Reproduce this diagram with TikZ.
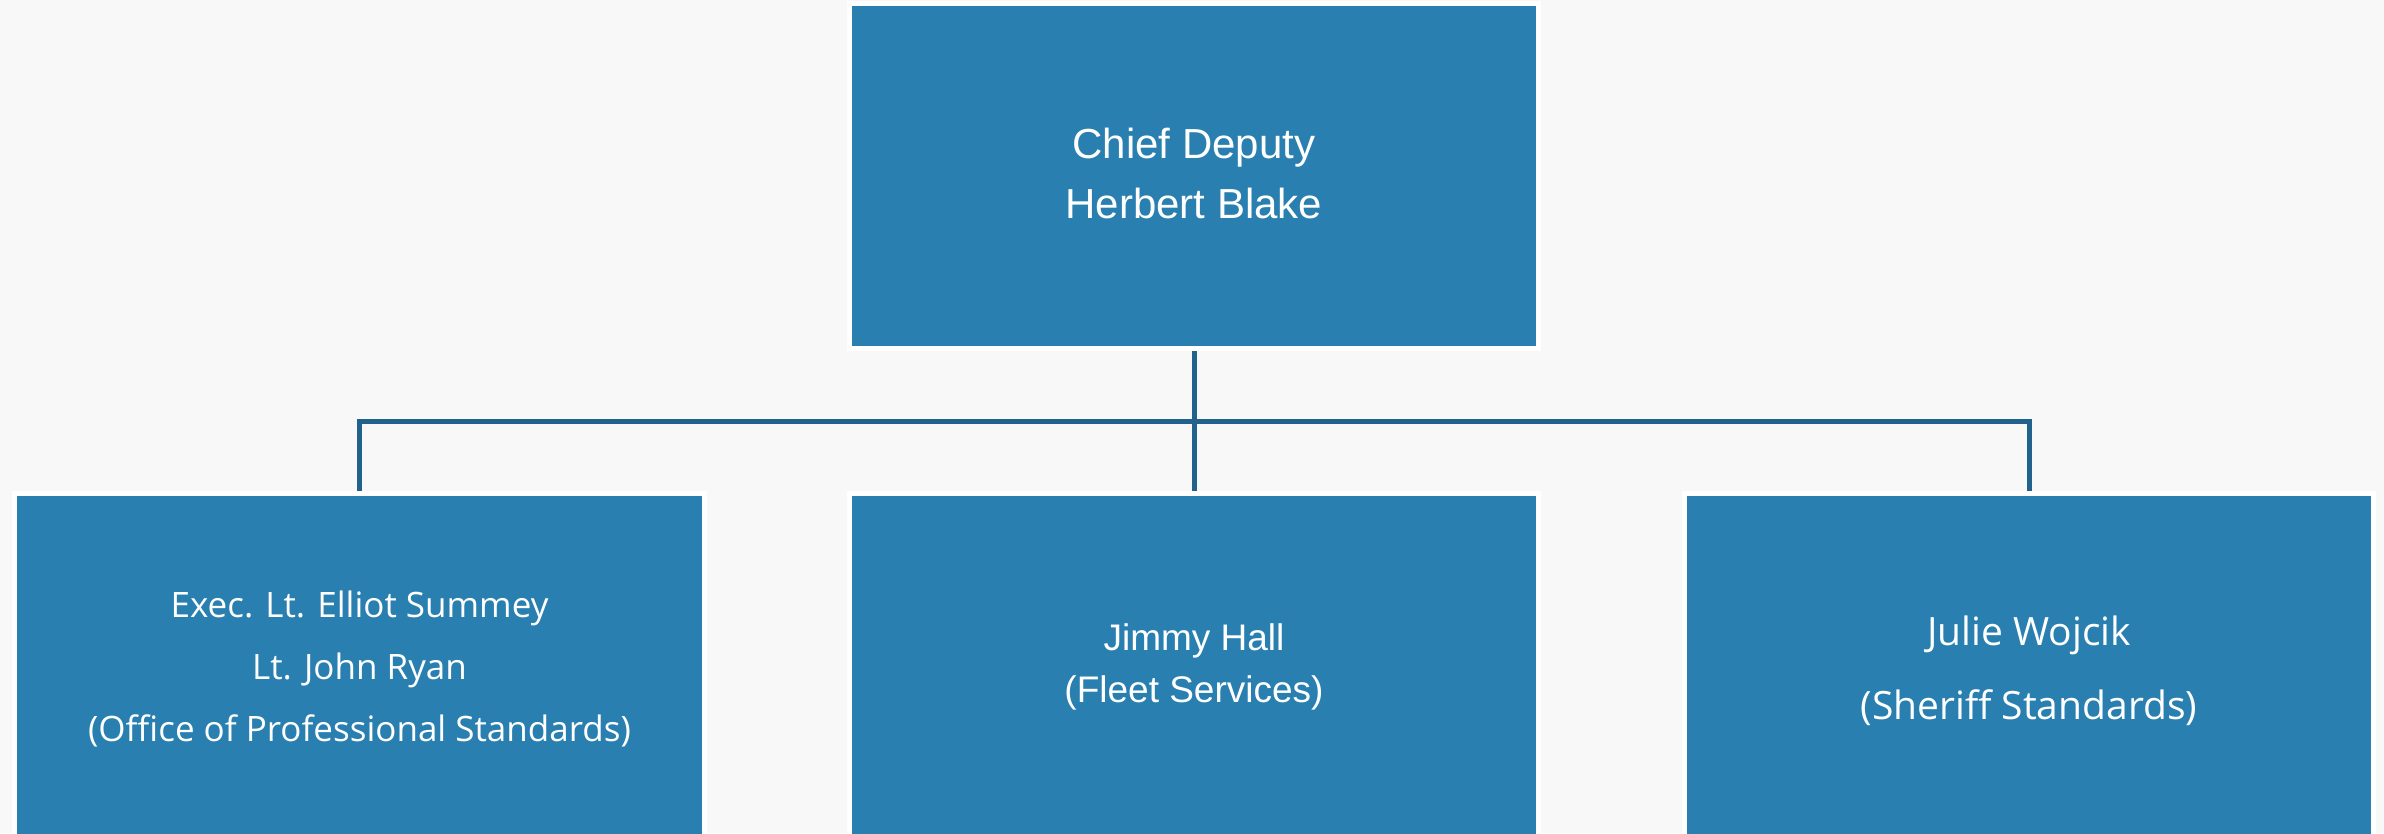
\documentclass[tikz,border=0pt]{standalone}
\usepackage{fontspec}
\setmainfont{Liberation Sans}
\newfontfamily\segoe{Open Sans}
\definecolor{bgc}{RGB}{248,248,248}
\definecolor{boxblue}{RGB}{41,127,176}
\definecolor{linkblue}{RGB}{33,98,140}
\tikzset{
  orgbox/.style={rectangle, fill=boxblue, draw=white, line width=5bp,
    minimum width=689bp, minimum height=345bp, inner sep=0pt},
  conn/.style={draw=linkblue, line width=5bp, line join=miter},
  txt/.style={text=white, align=center, inner sep=0pt},
  arialbig/.style={txt, font=\fontsize{42bp}{60bp}\selectfont},
  arialmid/.style={txt, font=\fontsize{37bp}{52bp}\selectfont},
  segsmall/.style={txt, font=\segoe\fontsize{35bp}{62.3bp}\selectfont},
  segbig/.style={txt, font=\segoe\fontsize{39bp}{74bp}\selectfont}
}
\begin{document}
\begin{tikzpicture}[x=1bp,y=-1bp]
\useasboundingbox (0,0) rectangle (2384,833);
\fill[bgc] (0,0) rectangle (2384,833);
\clip (0,0) rectangle (2384,833);
\node[orgbox] (top) at (1194,176) {};
\node[orgbox] (left) at (359.5,665.8) {};
\node[orgbox] (mid) at (1194,665.8) {};
\node[orgbox] (right) at (2029,665.8) {};
\coordinate (j) at (1194,421);
\draw[conn] (top.south) -- (mid.north);
\draw[conn] (left.north) |- (j) -| (right.north);
\node[arialbig] (ttop) at (1194,173) {Chief Deputy\\Herbert Blake};
\node[segsmall] (tleft) at (359.5,669) {Exec. Lt. Elliot Summey\\Lt. John Ryan\\(Office of Professional Standards)};
\node[arialmid] (tmid) at (1194,667) {Jimmy Hall\\(Fleet Services)};
\node[segbig] (tright) at (2029,670.5) {Julie Wojcik\\(Sheriff Standards)};
\end{tikzpicture}
\end{document}
